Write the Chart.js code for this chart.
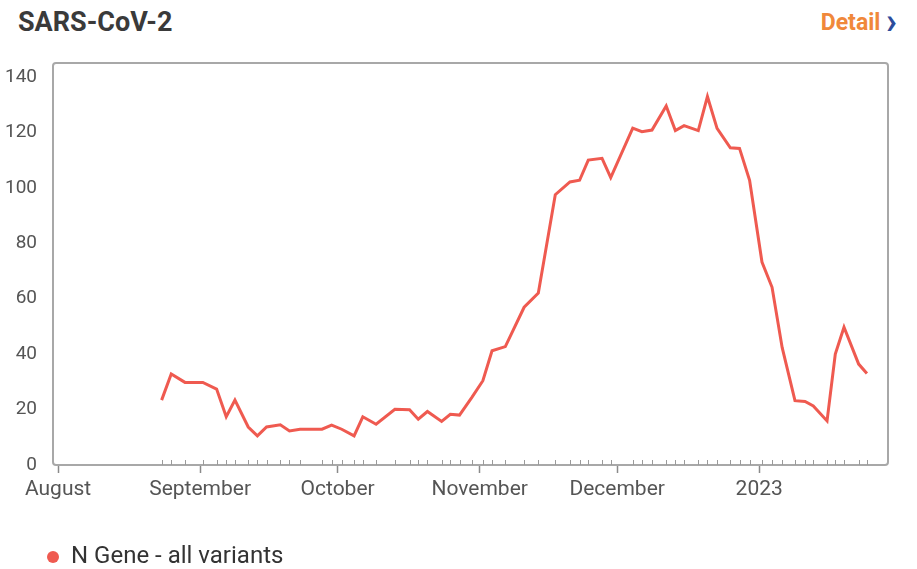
<!DOCTYPE html>
<html>
<head>
<meta charset="utf-8">
<title>SARS-CoV-2</title>
<script src="https://cdn.jsdelivr.net/npm/chart.js@4.4.0/dist/chart.umd.min.js"></script>
<style>
  html, body { margin: 0; padding: 0; background: #fff; }
  body { width: 917px; height: 569px; position: relative; overflow: hidden; font-family: Roboto, "Noto Sans", sans-serif; }
  #title { position: absolute; left: 18px; top: 5px; font-size: 27px; line-height: 34px; font-weight: 700; color: #3a3a3a; }
  #detail { position: absolute; right: 20px; top: 7px; font-size: 23px; line-height: 32px; font-weight: 700; color: #f0883a; }
  #detail span { color: #2c4c9c; font-size: 36px; line-height: 28px; vertical-align: top; }
  #wrap { position: absolute; left: 0; top: 0; width: 917px; height: 569px; }
</style>
</head>
<body>
<div id="title">SARS-CoV-2</div>
<div id="detail">Detail <span>›</span></div>
<div id="wrap"><canvas id="chart"></canvas></div>
<script>
// x values are days counted from 1 August 2022
const monthTicks = [0, 31, 61, 92, 122, 153];
const monthLabels = ["August", "September", "October", "November", "December", "2023"];

const sampleDays = [
  22.6, 24.7, 27.7, 31.6, 34.6, 36.7, 38.6, 41.5, 43.5, 45.5,
  48.5, 50.5, 52.8, 57.6, 59.7, 61.9, 64.6, 66.5, 69.4, 73.5,
  76.7, 78.6, 80.6, 83.7, 85.6, 87.6, 90.3, 92.7, 94.7, 97.6,
  101.7, 104.8, 108.5, 111.7, 113.8, 115.7, 118.7, 120.6, 125.4, 127.4,
  129.6, 132.7, 134.7, 136.6, 139.7, 141.7, 143.8, 146.7, 148.7, 150.9,
  153.6, 155.8, 158.0, 160.8, 163.0, 164.8, 167.8, 169.6, 171.5, 174.7,
  176.5
];
const nGene = [
  23.4, 32.8, 29.8, 29.8, 27.4, 17.4, 23.4, 13.7, 10.5, 13.7,
  14.5, 12.3, 12.9, 12.9, 14.4, 12.9, 10.5, 17.4, 14.7, 20.1,
  19.9, 16.5, 19.3, 15.7, 18.3, 18.0, 24.4, 30.4, 41.2, 42.7,
  56.9, 62.0, 97.5, 102.1, 102.7, 110.0, 110.6, 103.7, 121.5, 120.2,
  120.8, 129.5, 120.6, 122.4, 120.6, 132.9, 121.4, 114.4, 114.2, 102.7,
  73.2, 64.1, 42.4, 23.2, 22.9, 21.3, 15.9, 40.0, 49.7, 36.4,
  33.0
];

const LINE_COLOR = "#ef5a50";
const AXIS_COLOR = "#a8a8a8";

Chart.defaults.font.family = "Roboto, 'Noto Sans', sans-serif";
Chart.defaults.color = "#555";

// Frame round the plot area plus small ticks at each sample date
const framePlugin = {
  id: "frame",
  afterLayout(chart) {
    // nudge the legend a little lower / left, like the original widget
    chart.legend.left -= 6;
    chart.legend.right -= 6;
    chart.legend.top += 10;
    chart.legend.bottom += 10;
  },
  beforeDatasetsDraw(chart) {
    const { ctx, chartArea: a, scales } = chart;
    ctx.save();
    ctx.strokeStyle = AXIS_COLOR;
    ctx.lineWidth = 2;
    ctx.beginPath();
    ctx.roundRect(a.left, a.top, a.right - a.left, a.bottom - a.top, 3);
    ctx.stroke();

    ctx.lineWidth = 1;
    ctx.strokeStyle = "#9a9a9a";
    ctx.beginPath();
    sampleDays.forEach((d) => {
      const x = Math.round(scales.x.getPixelForValue(d)) + 0.5;
      ctx.moveTo(x, a.bottom - 5);
      ctx.lineTo(x, a.bottom);
    });
    ctx.stroke();
    ctx.restore();
  },
};

new Chart(document.getElementById("chart"), {
  type: "line",
  data: {
    datasets: [
      {
        label: "N Gene - all variants",
        data: sampleDays.map((d, i) => ({ x: d, y: nGene[i] })),
        borderColor: LINE_COLOR,
        backgroundColor: LINE_COLOR,
        borderWidth: 3,
        pointRadius: 0,
        tension: 0,
      },
    ],
  },
  options: {
    responsive: true,
    maintainAspectRatio: false,
    animation: false,
    layout: { padding: { top: 63, right: 29, bottom: 0, left: 0 } },
    plugins: {
      legend: {
        position: "bottom",
        align: "start",
        fullSize: false,
        labels: {
          usePointStyle: true,
          pointStyle: "circle",
          pointStyleWidth: 12,
          boxHeight: 8.5,
          padding: 0,
          color: "#333",
          font: { size: 24 },
          generateLabels: (chart) => {
            const items = Chart.defaults.plugins.legend.labels.generateLabels(chart);
            items.forEach((it) => { it.lineWidth = 0; });
            return items;
          },
        },
      },
      tooltip: { enabled: false },
    },
    scales: {
      x: {
        type: "linear",
        min: -1.1,
        max: 181.1,
        afterBuildTicks: (scale) => {
          scale.ticks = monthTicks.map((v) => ({ value: v }));
        },
        afterFit: (scale) => {
          scale.height = 70;
        },
        ticks: {
          autoSkip: false,
          maxRotation: 0,
          padding: 4,
          font: { size: 21 },
          color: "#555",
          callback: (value, index) => monthLabels[index],
        },
        grid: {
          display: true,
          drawOnChartArea: false,
          tickLength: 8,
          tickColor: "#8a8a8a",
          tickWidth: 1.5,
        },
        border: { display: false },
      },
      y: {
        min: 0,
        max: 145,
        afterFit: (scale) => {
          scale.width = 53;
        },
        ticks: {
          stepSize: 20,
          includeBounds: false,
          padding: 8,
          font: { size: 19 },
          color: "#555",
        },
        grid: { display: false },
        border: { display: false },
      },
    },
  },
  plugins: [framePlugin],
});
</script>
</body>
</html>
